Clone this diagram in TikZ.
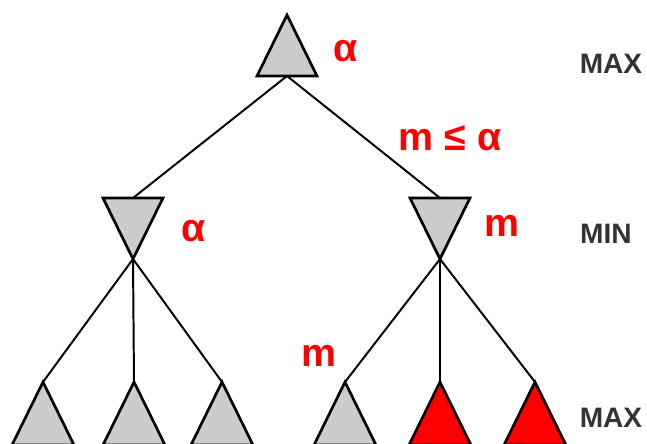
\documentclass[tikz,border=0pt]{standalone}
\usepackage{fontspec}
\setmainfont{Liberation Sans}
\usepackage{xcolor}
\usetikzlibrary{calc}
\definecolor{Node}{HTML}{CCCCCC}
\definecolor{Cut}{HTML}{FF0000}
\definecolor{Label}{HTML}{FF0000}
\definecolor{Level}{HTML}{333333}

\begin{document}
\begin{tikzpicture}[
  x=0.025cm,y=-0.025cm,
  font=\bfseries,
  maxtri/.style={draw=black, fill=Node, line width=1.9pt, line join=miter},
  mintri/.style={draw=black, fill=Node, line width=1.9pt, line join=miter},
  cuttri/.style={draw=black, fill=Cut, line width=1.9pt, line join=miter},
  edge/.style={draw=black, line width=1.4pt},
  val/.style={text=Label, inner sep=0pt, font=\fontsize{28}{28}\selectfont\bfseries},
  level/.style={text=Level, inner sep=0pt, font=\fontsize{20}{20}\selectfont\bfseries}
]
  \clip (0,0) rectangle (647,443);

  % root (MAX)
  \coordinate (root) at (287,15);
  \coordinate (rootb) at (287,76);
  % MIN level
  \coordinate (minl) at (133,198);
  \coordinate (minr) at (440,198);
  \coordinate (minlb) at (133,259);
  \coordinate (minrb) at (440,259);
  % leaves (MAX)
  \coordinate (l1) at (43,382);
  \coordinate (l2) at (134,382);
  \coordinate (l3) at (222,382);
  \coordinate (l4) at (345,382);
  \coordinate (l5) at (440,382);
  \coordinate (l6) at (535,382);

  \draw[edge] (rootb) -- (minl);
  \draw[edge] (rootb) -- (minr);
  \foreach \leaf in {l1,l2,l3} \draw[edge] (minlb) -- (\leaf);
  \foreach \leaf in {l4,l5,l6} \draw[edge] (minrb) -- (\leaf);

  \filldraw[maxtri] (root) -- ++(30,61) -- ++(-60,0) -- cycle;
  \filldraw[mintri] (minlb) -- ++(30,-61) -- ++(-60,0) -- cycle;
  \filldraw[mintri] (minrb) -- ++(30,-61) -- ++(-60,0) -- cycle;
  \foreach \leaf in {l1,l2,l3,l4} \filldraw[maxtri] (\leaf) -- ++(31,63) -- ++(-62,0) -- cycle;
  \foreach \leaf in {l5,l6} \filldraw[cuttri] (\leaf) -- ++(31,63) -- ++(-62,0) -- cycle;

  \node[val] (aroot) at (346,51) {α};
  \node[val] (bound) at (450,138) {m ≤ α};
  \node[val] (amin) at (194,231) {α};
  \node[val] (mmin) at (502,226) {m};
  \node[val] (mleaf) at (319,356) {m};

  \node[level] (lvl1) at (611,64) {MAX};
  \node[level] (lvl2) at (606,234) {MIN};
  \node[level] (lvl3) at (611,418) {MAX};
\end{tikzpicture}
\end{document}
